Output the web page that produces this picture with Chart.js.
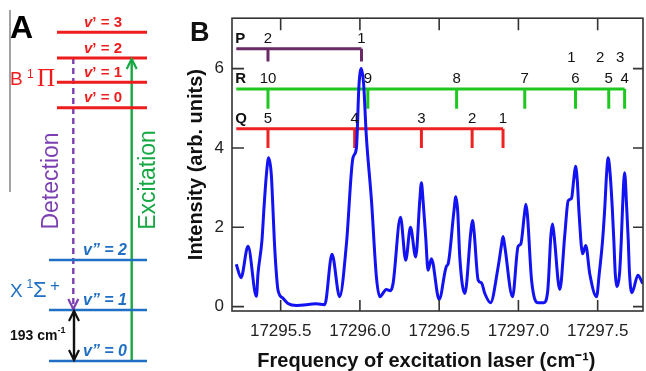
<!DOCTYPE html>
<html>
<head>
<meta charset="utf-8">
<script src="https://cdn.jsdelivr.net/npm/chart.js@4.4.1/dist/chart.umd.min.js"></script>
<style>
  html, body { margin: 0; padding: 0; background: #fff; }
  #wrap { position: relative; width: 646px; height: 371px; overflow: hidden; }
  #cA { position: absolute; left: 0; top: 0; }
  #cB { position: absolute; left: 180px; top: 0; }
</style>
</head>
<body>
<div id="wrap">
  <canvas id="cA" width="185" height="371"></canvas>
  <canvas id="cB" width="466" height="371"></canvas>
</div>
<script>
/* ── Panel B data: LIF spectrum ── */
var freq = [17295.22, 17295.25, 17295.294, 17295.347, 17295.357, 17295.382, 17295.395, 17295.41, 17295.424, 17295.441,
            17295.451, 17295.46, 17295.473, 17295.483, 17295.515, 17295.546, 17295.60, 17295.725, 17295.778, 17295.824,
            17295.872, 17295.915, 17295.956, 17295.978, 17295.994, 17296.009, 17296.024, 17296.04, 17296.073, 17296.104,
            17296.125, 17296.167, 17296.192, 17296.209, 17296.256, 17296.289, 17296.319, 17296.352, 17296.378, 17296.388,
            17296.398, 17296.415, 17296.43, 17296.451, 17296.50, 17296.546, 17296.556, 17296.593, 17296.605, 17296.617,
            17296.63, 17296.662, 17296.70, 17296.71, 17296.72, 17296.746, 17296.767, 17296.788, 17296.824, 17296.872,
            17296.893, 17296.903, 17296.913, 17296.963, 17296.998, 17297.015, 17297.037, 17297.047, 17297.057, 17297.083,
            17297.124, 17297.16, 17297.185, 17297.205, 17297.215, 17297.225, 17297.261, 17297.293, 17297.314, 17297.335,
            17297.349, 17297.36, 17297.371, 17297.383, 17297.405, 17297.425, 17297.45, 17297.493, 17297.51, 17297.531,
            17297.545, 17297.556, 17297.566, 17297.579, 17297.592, 17297.602, 17297.611, 17297.621, 17297.638, 17297.649,
            17297.657, 17297.67, 17297.683, 17297.693, 17297.701, 17297.716, 17297.754, 17297.784];
var intensity = [1.07, 0.73, 1.52, 0.26, 0.83, 1.67, 2.5, 3.33, 3.75, 3.33,
                 2.5, 1.67, 0.83, 0.42, 0.21, 0.08, 0.03, 0.07, 0.05, 1.32,
                 0.25, 1.58, 3.75, 4.0, 5.58, 6.0, 5.58, 4.33, 2.67, 0.75,
                 0.25, 0.43, 0.40, 0.58, 2.25, 1.17, 2.0, 1.25, 2.7, 3.12,
                 2.7, 1.75, 0.92, 1.21, 0.18, 1.02, 1.07, 2.4, 2.77, 2.4,
                 1.25, 0.33, 1.9, 2.17, 1.9, 0.67, 0.60, 0.33, 0.10, 1.0,
                 1.55, 1.77, 1.55, 0.25, 1.52, 1.58, 2.3, 2.58, 2.3, 0.67,
                 0.10, 0.10, 0.40, 1.8, 2.08, 1.8, 0.43, 1.83, 2.67, 2.73,
                 3.2, 3.54, 3.2, 2.33, 1.33, 1.54, 0.83, 0.25, 0.83, 1.67,
                 2.5, 3.33, 3.75, 3.33, 2.5, 1.67, 0.83, 0.5, 0.83, 1.67,
                 2.5, 3.375, 2.5, 1.67, 0.83, 0.35, 0.79, 0.58];
var xTicks = [17295.5, 17296.0, 17296.5, 17297.0, 17297.5];
var yTicks = [0, 2, 4, 6];

// line assignments (stick positions)
var pFreq = [17295.42, 17296.01];
var pNum = ['2', '1'];
var rFreq = [17295.42, 17296.05, 17296.61, 17297.04, 17297.36, 17297.57, 17297.67];
var rNum = ['10', '9', '8', '7', '6', '5', '4'];
var qFreq = [17295.42, 17295.967, 17296.388, 17296.708, 17296.903];
var qNum = ['5', '4', '3', '2', '1'];
var extraFreq = [17297.335, 17297.516, 17297.642];
var extraNum = ['1', '2', '3'];
var rowStart = 17295.22;

/* ── Panel A data: schematic levels (diagram units) ── */
var upperV = ['0', '1', '2', '3'];
var upperE = [263.3, 288.7, 313, 338.7];
var lowerV = ['0', '1', '2'];
var lowerE = [10, 61, 111];

var SANS = "'Liberation Sans', Arial, sans-serif";
var SERIF = "'Liberation Serif', 'Times New Roman', serif";

// ════════════════════════════════════════════
//  Panel A — energy level diagram
// ════════════════════════════════════════════
var A = {
    red: '#ee1c1c', blue: '#1f6fc4', purple: '#7b3fb2', green: '#16a843',
    upX: [57, 147], lowX: [49, 147], detX: 73.3, excX: 131.7, gapX: 74
};

function levelData(energies, span) {
    var pts = [];
    energies.forEach(function (e, i) {
        if (i > 0) pts.push({ x: span[0], y: null });
        pts.push({ x: span[0], y: e }, { x: span[1], y: e });
    });
    return pts;
}

function lineDs(data, color, width, dash) {
    return {
        data: data, borderColor: color, borderWidth: width, borderDash: dash || [],
        pointRadius: 0, showLine: true, spanGaps: false, borderCapStyle: 'butt', tension: 0
    };
}

function chevron(ctx, x, y, dir, color) {
    // dir: -1 tip pointing up, +1 tip pointing down
    ctx.beginPath();
    ctx.strokeStyle = color;
    ctx.lineWidth = 2.2;
    ctx.moveTo(x - 5, y - dir * 10);
    ctx.lineTo(x, y);
    ctx.lineTo(x + 5, y - dir * 10);
    ctx.stroke();
}

var panelALabels = {
    id: 'panelALabels',
    afterDatasetsDraw: function (chart) {
        var ctx = chart.ctx, sx = chart.scales.x, sy = chart.scales.y;
        function px(v) { return sx.getPixelForValue(v); }
        function py(v) { return sy.getPixelForValue(v); }
        ctx.save();

        // arrowheads
        chevron(ctx, px(A.detX), py(lowerE[1]) - 1, 1, A.purple);
        chevron(ctx, px(A.excX), py(upperE[2]) + 1, -1, A.green);
        chevron(ctx, px(A.gapX), py(lowerE[1]) + 1, -1, '#111');
        chevron(ctx, px(A.gapX), py(lowerE[0]) - 1, 1, '#111');

        ctx.textBaseline = 'alphabetic';
        ctx.textAlign = 'left';
        ctx.fillStyle = '#000';
        ctx.font = 'bold 32px ' + SANS;
        ctx.fillText('A', px(10), py(332.7));

        // upper state labels
        ctx.textBaseline = 'middle';
        upperV.forEach(function (v, i) {
            var a = 'v', b = '\u2019 = ' + v;
            ctx.font = 'italic bold 15px ' + SANS;
            var wa = ctx.measureText(a).width;
            ctx.font = 'bold 15px ' + SANS;
            var wb = ctx.measureText(b).width;
            var x0 = px(103) - (wa + wb) / 2, y0 = py(upperE[i] + 9.5);
            ctx.fillStyle = A.red;
            ctx.font = 'italic bold 15px ' + SANS;
            ctx.fillText(a, x0, y0);
            ctx.font = 'bold 15px ' + SANS;
            ctx.fillText(b, x0 + wa, y0);
        });
        // lower state labels
        ctx.textAlign = 'center';
        ctx.fillStyle = A.blue;
        ctx.font = 'italic bold 16px ' + SANS;
        lowerV.forEach(function (v, i) {
            ctx.fillText('v\u201D = ' + v, px(105), py(lowerE[i] + 9.5));
        });

        // state names
        ctx.textAlign = 'left';
        ctx.textBaseline = 'alphabetic';
        ctx.fillStyle = A.red;
        ctx.font = '19px ' + SANS;
        ctx.fillText('B', px(10), py(286));
        ctx.font = '12px ' + SANS;
        ctx.fillText('1', px(27), py(293.5));
        ctx.font = '25px ' + SERIF;
        ctx.fillText('\u03A0', px(37), py(285.5));

        ctx.fillStyle = A.blue;
        ctx.font = '19px ' + SANS;
        ctx.fillText('X', px(10), py(73.7));
        ctx.font = '12px ' + SANS;
        ctx.fillText('1', px(26.5), py(83));
        ctx.font = '22px ' + SANS;
        ctx.fillText('\u03A3', px(33), py(73.7));
        ctx.font = '17px ' + SANS;
        ctx.fillText('+', px(50), py(80));

        // 193 cm-1
        ctx.fillStyle = '#111';
        ctx.font = 'bold 14px ' + SANS;
        ctx.fillText('193 cm', px(10), py(31));
        var w = ctx.measureText('193 cm').width;
        ctx.font = 'bold 9px ' + SANS;
        ctx.fillText('-1', px(10) + w, py(38));

        // rotated labels
        ctx.textAlign = 'center';
        ctx.textBaseline = 'middle';
        ctx.font = '23px ' + SANS;
        [['Detection', 52, 190, A.purple], ['Excitation', 148.5, 191, A.green]].forEach(function (t) {
            ctx.save();
            ctx.translate(px(t[1]), py(t[2]));
            ctx.rotate(-Math.PI / 2);
            ctx.fillStyle = t[3];
            ctx.fillText(t[0], 0, 0);
            ctx.restore();
        });
        ctx.restore();
    }
};

new Chart(document.getElementById('cA'), {
    type: 'scatter',
    data: {
        datasets: [
            lineDs([{ x: 10, y: 361 }, { x: 10, y: 179 }], '#8c8c8c', 1.6),
            lineDs(levelData(upperE, A.upX), A.red, 3),
            lineDs(levelData(lowerE, A.lowX), A.blue, 2.6),
            lineDs([{ x: A.detX, y: upperE[2] }, { x: A.detX, y: lowerE[1] + 1 }], A.purple, 2.4, [6, 4]),
            lineDs([{ x: A.excX, y: lowerE[0] }, { x: A.excX, y: upperE[2] - 1 }], A.green, 2.4),
            lineDs([{ x: A.gapX, y: lowerE[1] - 1 }, { x: A.gapX, y: lowerE[0] + 1 }], '#111', 2.4)
        ]
    },
    options: {
        responsive: false,
        animation: false,
        layout: { padding: 0 },
        plugins: { legend: { display: false }, tooltip: { enabled: false } },
        scales: {
            x: { type: 'linear', min: 0, max: 185, display: false },
            y: { type: 'linear', min: 0, max: 371, display: false }
        }
    },
    plugins: [panelALabels]
});

// ════════════════════════════════════════════
//  Panel B — excitation spectrum
// ════════════════════════════════════════════
var rows = [
    { letter: 'P', freqs: pFreq, nums: pNum, color: '#6a2a66', level: 6.5, drop: 6.18 },
    { letter: 'R', freqs: rFreq, nums: rNum, color: '#1ec81e', level: 5.485, drop: 4.985 },
    { letter: 'Q', freqs: qFreq, nums: qNum, color: '#ee2222', level: 4.485, drop: 4.0 }
];

function rowData(row) {
    var last = row.freqs[row.freqs.length - 1];
    var pts = [{ x: rowStart, y: row.level }, { x: last, y: row.level }];
    row.freqs.forEach(function (f) {
        pts.push({ x: f, y: null }, { x: f, y: row.level }, { x: f, y: row.drop });
    });
    return pts;
}

var spectrum = freq.map(function (f, i) { return { x: f, y: intensity[i] }; });

var frameAndLabels = {
    id: 'frameAndLabels',
    afterDatasetsDraw: function (chart) {
        var ctx = chart.ctx, a = chart.chartArea, sx = chart.scales.x, sy = chart.scales.y;
        ctx.save();
        // frame + inward ticks
        ctx.strokeStyle = '#333';
        ctx.lineWidth = 1.6;
        ctx.strokeRect(a.left, a.top, a.right - a.left, a.bottom - a.top);
        ctx.beginPath();
        xTicks.forEach(function (v) {
            var p = sx.getPixelForValue(v);
            ctx.moveTo(p, a.bottom); ctx.lineTo(p, a.bottom - 11);
            ctx.moveTo(p, a.top); ctx.lineTo(p, a.top + 12);
        });
        yTicks.forEach(function (v) {
            var p = sy.getPixelForValue(v);
            ctx.moveTo(a.left, p); ctx.lineTo(a.left + 12, p);
            ctx.moveTo(a.right, p); ctx.lineTo(a.right - 10, p);
        });
        ctx.stroke();

        // branch labels
        ctx.fillStyle = '#111';
        ctx.textBaseline = 'middle';
        rows.forEach(function (row) {
            var y = sy.getPixelForValue(row.level + 0.25);
            ctx.textAlign = 'left';
            ctx.font = 'bold 15px ' + SANS;
            ctx.fillText(row.letter, sx.getPixelForValue(rowStart) - 1, y);
            ctx.textAlign = 'center';
            ctx.font = '15px ' + SANS;
            row.freqs.forEach(function (f, i) {
                ctx.fillText(row.nums[i], sx.getPixelForValue(f), y);
            });
        });
        extraFreq.forEach(function (f, i) {
            ctx.fillText(extraNum[i], sx.getPixelForValue(f), sy.getPixelForValue(6.27));
        });

        // panel letter
        ctx.textAlign = 'left';
        ctx.textBaseline = 'alphabetic';
        ctx.font = 'bold 27px ' + SANS;
        ctx.fillText('B', a.left - 42, a.top + 22.5);
        ctx.restore();
    }
};

new Chart(document.getElementById('cB'), {
    type: 'line',
    data: {
        datasets: [
            {
                data: spectrum, borderColor: '#1212f2', borderWidth: 3, pointRadius: 0,
                cubicInterpolationMode: 'monotone', fill: false
            }
        ].concat(rows.map(function (row) {
            return {
                data: rowData(row), borderColor: row.color, borderWidth: 3, pointRadius: 0,
                spanGaps: false, tension: 0, borderCapStyle: 'butt'
            };
        }))
    },
    options: {
        responsive: false,
        animation: false,
        layout: { padding: { top: 16, right: 3, left: 0, bottom: 0 } },
        plugins: { legend: { display: false }, tooltip: { enabled: false } },
        scales: {
            x: {
                type: 'linear', min: 17295.193, max: 17297.786,
                afterBuildTicks: function (s) { s.ticks = xTicks.map(function (v) { return { value: v }; }); },
                afterFit: function (s) { s.height = 60; },
                grid: { display: false, drawTicks: false },
                border: { display: false },
                ticks: {
                    padding: 10, color: '#222', maxRotation: 0, autoSkip: false,
                    font: { family: SANS, size: 17 },
                    callback: function (v) { return v.toFixed(1); }
                },
                title: {
                    display: true, text: 'Frequency of excitation laser (cm\u207B\u00B9)    ', color: '#111',
                    font: { family: SANS, size: 20, weight: 'bold', lineHeight: 1 },
                    padding: { top: 0, bottom: 0 }
                }
            },
            y: {
                type: 'linear', min: -0.11, max: 7.27,
                afterBuildTicks: function (s) { s.ticks = yTicks.map(function (v) { return { value: v }; }); },
                afterFit: function (s) { s.width = 52; },
                grid: { display: false, drawTicks: false },
                border: { display: false },
                ticks: {
                    padding: 8, color: '#222',
                    font: { family: SANS, size: 17 },
                    callback: function (v) { return String(v); }
                },
                title: {
                    display: true, text: 'Intensity (arb. units)', color: '#111',
                    font: { family: SANS, size: 20, weight: 'bold', lineHeight: 1.2 },
                    padding: { top: 4, bottom: 0 }
                }
            }
        }
    },
    plugins: [frameAndLabels]
});
</script>
</body>
</html>
